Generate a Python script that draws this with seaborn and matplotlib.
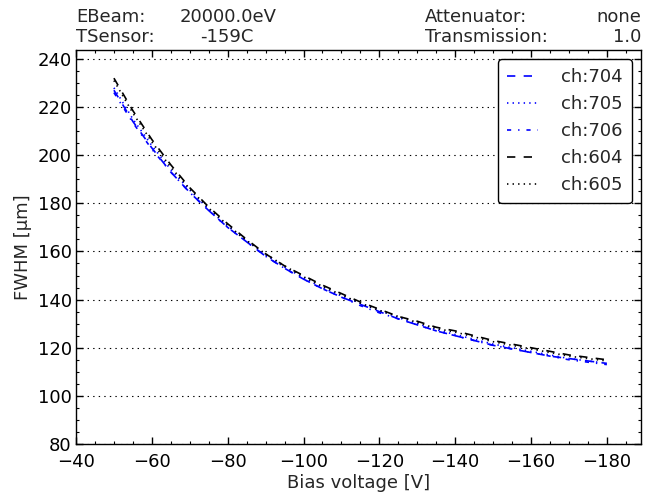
import matplotlib
matplotlib.use("Agg")
import matplotlib.pyplot as plt
import seaborn as sns
import pandas as pd
from matplotlib.ticker import MultipleLocator

bias = [-50, -55, -60, -65, -70, -75, -80, -85, -90, -95, -100, -105, -110, -115,
        -120, -125, -130, -135, -140, -145, -150, -155, -160, -165, -170, -175, -180]

ch704 = [227, 214, 203, 193, 184.5, 177, 170, 164, 158, 153, 148.5, 144.5, 141, 138,
         135, 132, 129.5, 127, 125, 123, 121, 119.5, 118, 116.5, 115.5, 114.5, 113.5]
ch705 = [228, 215, 204, 194, 185.5, 177.5, 170.5, 164.5, 158.5, 153.5, 149, 145, 141.5, 138.5,
         135.5, 132.5, 130, 127.5, 125.5, 123.5, 121.5, 120, 118.5, 117, 115.5, 114.5, 113.5]
ch706 = [226, 213.5, 202.5, 193, 184.5, 177, 170, 164, 158, 153, 148.5, 144.5, 141, 137.5,
         134.5, 132, 129.5, 127, 125, 123, 121, 119.5, 118, 116.5, 115, 114, 113]
ch604 = [232, 218.5, 206.5, 196, 186.5, 178.5, 171.5, 165, 159, 154, 150, 146, 142.5, 139,
         136, 133, 131, 128.5, 127, 125, 123, 121.5, 120, 118.5, 117, 116, 115]
ch605 = [231, 217.5, 205.5, 195, 186, 178, 171, 164.5, 159, 154, 149.5, 145.5, 142, 138.5,
         135.5, 133, 130.5, 128, 126.5, 124.5, 122.5, 121, 119.5, 118, 116.5, 115.5, 114.5]

channels = ["ch:704", "ch:705", "ch:706", "ch:604", "ch:605"]
series = [ch704, ch705, ch706, ch604, ch605]
colors = ["blue", "blue", "blue", "black", "black"]
styles = ["--", ":", "-.", "--", ":"]

rows = []
for name, vals in zip(channels, series):
    for b, v in zip(bias, vals):
        rows.append({"bias": b, "fwhm": v, "ch": name})
df = pd.DataFrame(rows)

sns.set_style("white")
plt.rcParams.update({
    "font.family": ["DejaVu Sans"],
    "font.size": 13,
    "lines.dashed_pattern": [6, 6],
    "lines.dotted_pattern": [1, 3],
    "lines.dashdot_pattern": [3, 5, 1, 5],
    "lines.scale_dashes": False,
    "axes.edgecolor": "black",
    "axes.linewidth": 1.0,
    "xtick.color": "black",
    "ytick.color": "black",
})

fig = plt.figure(figsize=(6.45, 4.96), dpi=100)
ax = fig.add_axes([76 / 645, 1 - 444 / 496, (641 - 76) / 645, (444 - 50) / 496])

for name, col, ls in zip(channels, colors, styles):
    sub = df[df["ch"] == name]
    sns.lineplot(data=sub, x="bias", y="fwhm", ax=ax, color=col, linestyle=ls,
                 linewidth=1.2, label=name, sort=False)

ax.set_xlim(-40, -189)
ax.set_ylim(80, 243.7)
ax.xaxis.set_major_locator(MultipleLocator(20))
ax.xaxis.set_minor_locator(MultipleLocator(5))
ax.yaxis.set_major_locator(MultipleLocator(20))
ax.yaxis.set_minor_locator(MultipleLocator(5))
ax.tick_params(which="major", direction="in", top=True, right=True, bottom=True, left=True,
               length=5, width=1, labelsize=13, color="black")
ax.tick_params(which="minor", direction="in", top=True, right=True, bottom=True, left=True,
               length=2.5, width=0.8, color="black")
ax.tick_params(axis="x", which="major", pad=6.5)
ax.tick_params(axis="y", which="major", pad=3)
ax.yaxis.grid(True, which="major", color="black", linestyle=":", linewidth=0.8)
ax.yaxis.grid(False, which="minor")
ax.xaxis.grid(False, which="both")
for s in ax.spines.values():
    s.set_visible(True)
    s.set_color("black")

ax.set_xlabel("Bias voltage [V]", fontsize=13, labelpad=2)
ax.set_ylabel("FWHM [µm]", fontsize=13)

leg = ax.legend(loc="upper right", fontsize=13, frameon=True, fancybox=True,
                edgecolor="black", framealpha=1, handlelength=1.7, handletextpad=1.3,
                borderpad=0.5, labelspacing=0.5, borderaxespad=0.5)
leg.get_frame().set_linewidth(1.0)

fig.text(76 / 645, 1 - 17 / 496, "EBeam:", fontsize=13, va="center", ha="left")
fig.text(180 / 645, 1 - 17 / 496, "20000.0eV", fontsize=13, va="center", ha="left")
fig.text(76 / 645, 1 - 37 / 496, "TSensor:", fontsize=13, va="center", ha="left")
fig.text(200 / 645, 1 - 37 / 496, "-159C", fontsize=13, va="center", ha="left")
fig.text(425 / 645, 1 - 17 / 496, "Attenuator:", fontsize=13, va="center", ha="left")
fig.text(641 / 645, 1 - 17 / 496, "none", fontsize=13, va="center", ha="right")
fig.text(425 / 645, 1 - 37 / 496, "Transmission:", fontsize=13, va="center", ha="left")
fig.text(641 / 645, 1 - 37 / 496, "1.0", fontsize=13, va="center", ha="right")

fig.savefig("out.png", dpi=100)
